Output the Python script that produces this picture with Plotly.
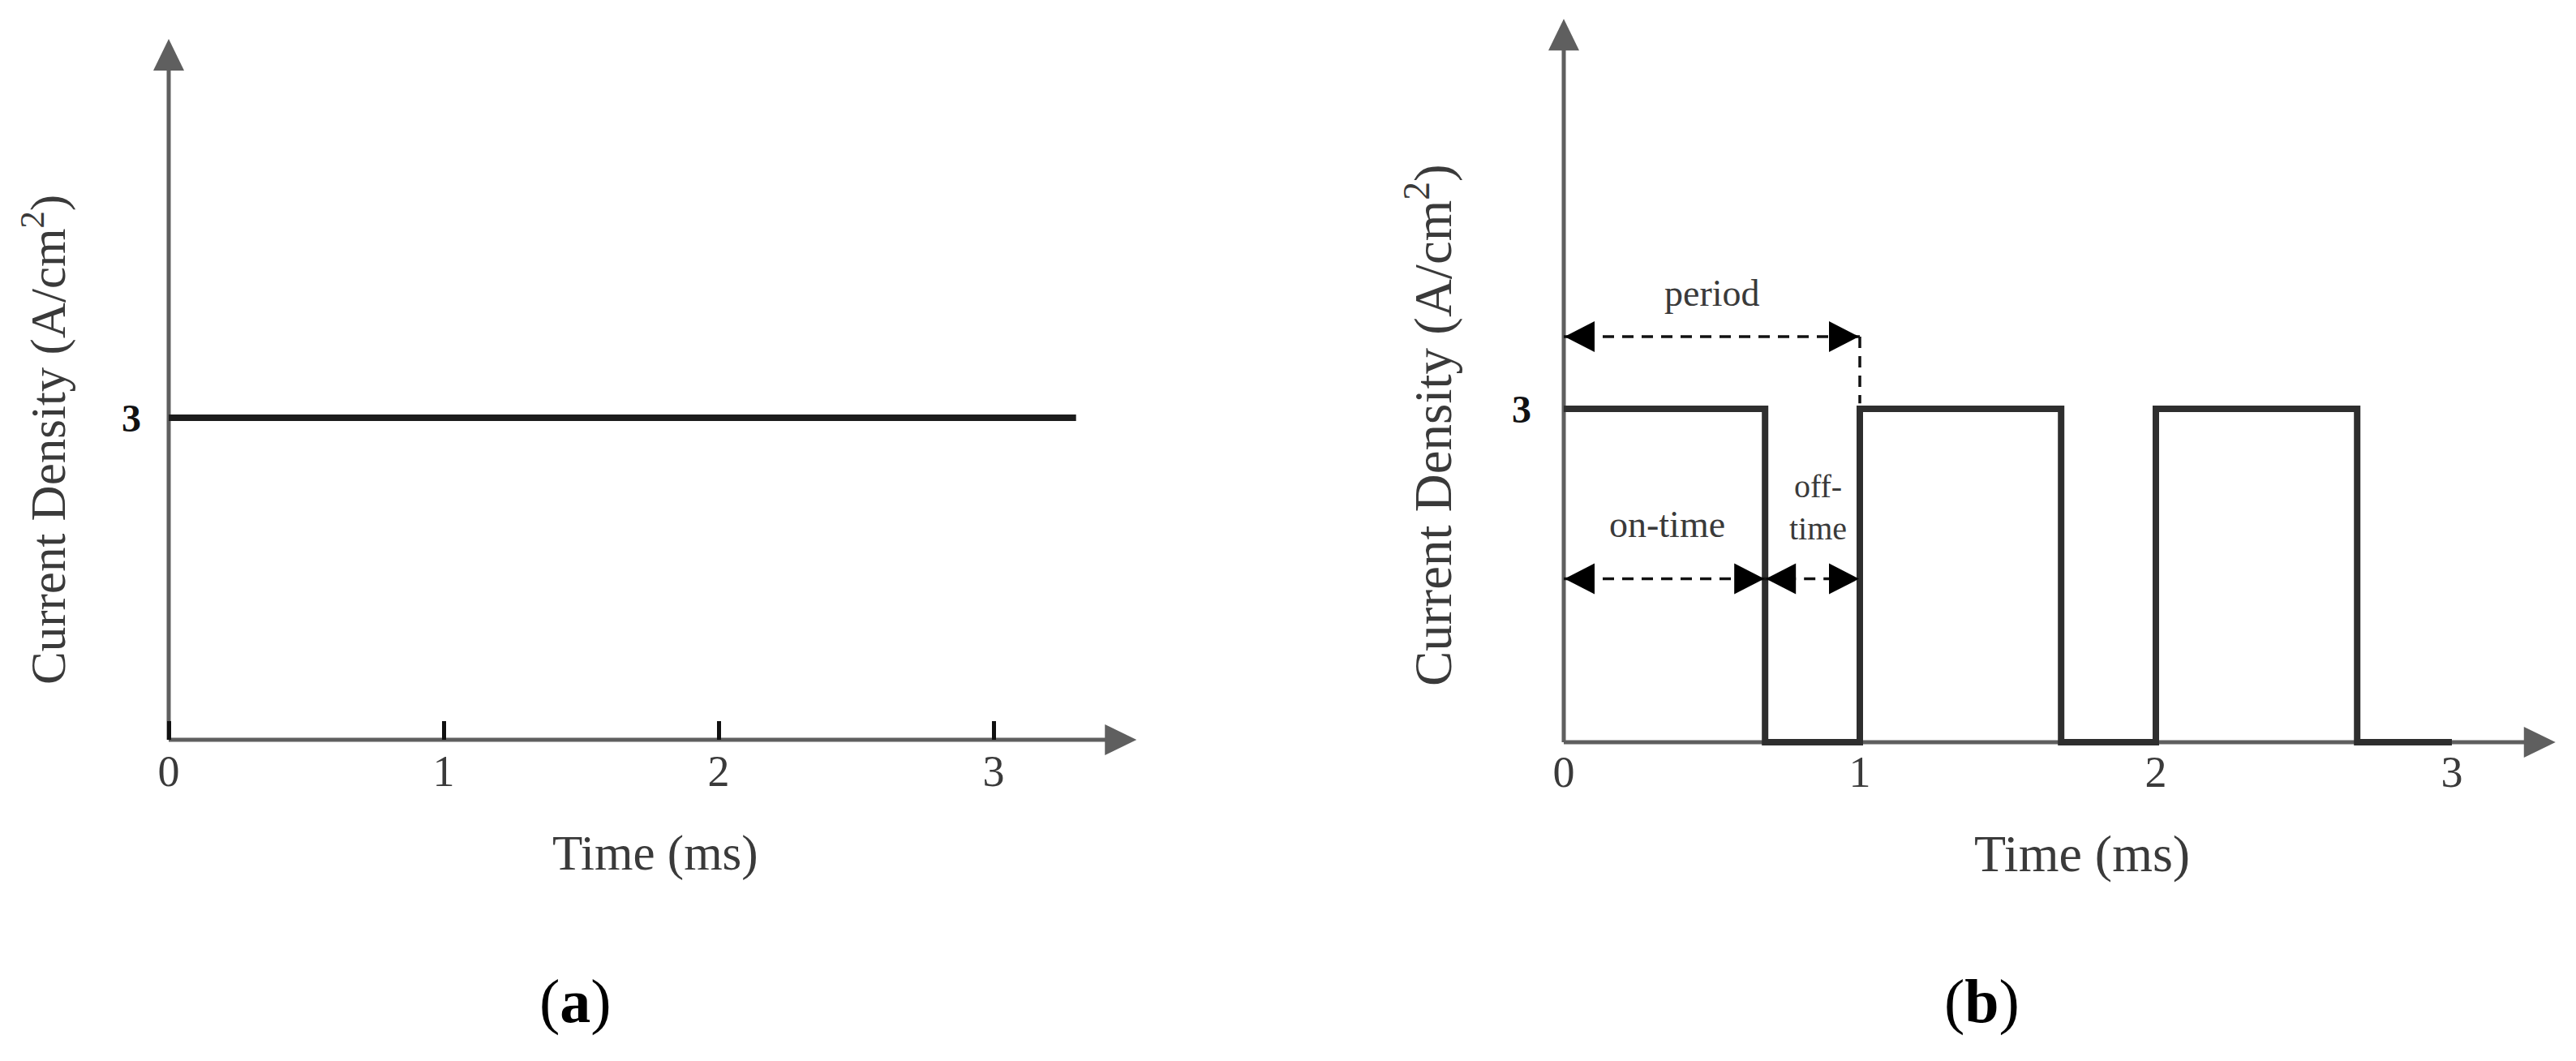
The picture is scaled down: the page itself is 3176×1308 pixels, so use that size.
import plotly.graph_objects as go

# ---------------- data ----------------
dc_time = [0, 3.3]                 # ms, panel (a): direct current
dc_density = [3, 3]                # A/cm2

pulse_time = [0, 0.68, 0.68, 1, 1, 1.68, 1.68, 2, 2, 2.68, 2.68, 3]   # ms, panel (b)
pulse_density = [3, 3, 0, 0, 3, 3, 0, 0, 3, 3, 0, 0]                 # A/cm2

x_tick_vals = [0, 1, 2, 3]
x_tick_text = ["0", "1", "2", "3"]
y_tick_vals = [3]
y_tick_text = ["<b>3</b>"]

period_span = [0, 1]        # ms
on_time_span = [0, 0.68]    # ms
off_time_span = [0.68, 1]   # ms

x_title = "Time (ms)"
y_title = "Current Density (A/cm<sup>2</sup>)"
panel_labels = ["(<b>a</b>)", "(<b>b</b>)"]

# ---------------- layout geometry (pixels) ----------------
W, H = 3176, 1308
FONT = "Liberation Serif"
AXC = "#5f5f5f"
TXT = "#3a3a3a"

# panel a: origin px, px per unit, ranges
XA0, SXA, XRA = 208, 339, [-0.6, 3.6]
YA0, SYA, YRA = 912, 132.3, [-1.5, 6.85]
# panel b
XB0, SXB, XRB = 1928, 365, [-0.6, 3.4]
YB0, SYB, YRB = 915, 137, [-1.4, 6.65]


def xdom(x0, s, r):
    return [(x0 + r[0] * s) / W, (x0 + r[1] * s) / W]


def ydom(y0, s, r):
    return [1 - (y0 - r[0] * s) / H, 1 - (y0 - r[1] * s) / H]


def px(x, y):
    return x / W, 1 - y / H


fig = go.Figure()
fig.add_trace(go.Scatter(x=dc_time, y=dc_density, mode="lines",
                         line=dict(color="#1c1c1c", width=8),
                         xaxis="x", yaxis="y", showlegend=False, hoverinfo="skip"))
fig.add_trace(go.Scatter(x=pulse_time, y=pulse_density, mode="lines",
                         line=dict(color="#2e2e2e", width=8),
                         xaxis="x2", yaxis="y2", showlegend=False, hoverinfo="skip"))

shapes = []


def axis_arrows(xr, yr, xtip, ytip, xback, yback):
    shapes.append(dict(type="line", xref=xr, yref=yr, x0=0, y0=0, x1=xtip - xback, y1=0,
                       line=dict(color=AXC, width=5), layer="below"))
    shapes.append(dict(type="line", xref=xr, yref=yr, x0=0, y0=0, x1=0, y1=ytip - yback,
                       line=dict(color=AXC, width=5), layer="below"))
    shapes.append(dict(type="path", xref=xr, yref=yr, xsizemode="pixel", ysizemode="pixel",
                       xanchor=xtip, yanchor=0, path="M 0,0 L -39,19 L -39,-19 Z",
                       fillcolor=AXC, line=dict(width=0)))
    shapes.append(dict(type="path", xref=xr, yref=yr, xsizemode="pixel", ysizemode="pixel",
                       xanchor=0, yanchor=ytip, path="M 0,0 L -19,-39 L 19,-39 Z",
                       fillcolor=AXC, line=dict(width=0)))


def dim_arrow(xr, yr, xl, xrt, y):
    shapes.append(dict(type="line", xref=xr, yref=yr, x0=xl, y0=y, x1=xrt, y1=y,
                       line=dict(color="#111111", width=3.5, dash="14px,10px")))
    shapes.append(dict(type="path", xref=xr, yref=yr, xsizemode="pixel", ysizemode="pixel",
                       xanchor=xl, yanchor=y, path="M 1,0 L 38,19 L 38,-19 Z",
                       fillcolor="#000000", line=dict(width=0)))
    shapes.append(dict(type="path", xref=xr, yref=yr, xsizemode="pixel", ysizemode="pixel",
                       xanchor=xrt, yanchor=y, path="M -1,0 L -38,19 L -38,-19 Z",
                       fillcolor="#000000", line=dict(width=0)))


axis_arrows("x", "y", 3.52, 6.53, 0.06, 0.15)
axis_arrows("x2", "y2", 3.35, 6.51, 0.06, 0.15)

PERIOD_Y, ONOFF_Y = 3.65, 1.47
dim_arrow("x2", "y2", period_span[0], period_span[1], PERIOD_Y)
dim_arrow("x2", "y2", on_time_span[0], on_time_span[1], ONOFF_Y)
dim_arrow("x2", "y2", off_time_span[0], off_time_span[1], ONOFF_Y)
shapes.append(dict(type="line", xref="x2", yref="y2", x0=period_span[1], y0=PERIOD_Y,
                   x1=period_span[1], y1=pulse_density[4] + 0.05,
                   line=dict(color="#111111", width=3.5, dash="14px,10px")))

annotations = []


def ann_px(text, x, y, size, color=TXT, angle=0):
    xp, yp = px(x, y)
    annotations.append(dict(text=text, x=xp, y=yp, xref="paper", yref="paper",
                            showarrow=False, xanchor="center", yanchor="middle",
                            textangle=angle, font=dict(family=FONT, size=size, color=color)))


ann_px(y_title, 55, 542, 61, angle=-90)
ann_px(y_title, 1762, 524, 65, angle=-90)
ann_px(x_title, 808, 1052, 61)
ann_px(x_title, 2567, 1052, 64)
ann_px(panel_labels[0], 709, 1234, 76, color="#000000")
ann_px(panel_labels[1], 2443, 1234, 76, color="#000000")

# texts inside panel b (data coords)
annotations.append(dict(text="period", x=0.5, y=4.04, xref="x2", yref="y2", showarrow=False,
                        font=dict(family=FONT, size=46, color=TXT)))
annotations.append(dict(text="on-time", x=0.35, y=1.96, xref="x2", yref="y2", showarrow=False,
                        font=dict(family=FONT, size=46, color=TXT)))
annotations.append(dict(text="off-<br>time", x=0.86, y=2.11, xref="x2", yref="y2", showarrow=False,
                        font=dict(family=FONT, size=40, color=TXT)))

common_x = dict(showgrid=False, zeroline=False, showline=False, anchor="free",
                tickmode="array", tickvals=x_tick_vals, ticktext=x_tick_text,
                tickfont=dict(family=FONT, size=54, color=TXT), fixedrange=True)
common_y = dict(showgrid=False, zeroline=False, showline=False, anchor="free",
                tickmode="array", tickvals=y_tick_vals, ticktext=y_tick_text,
                ticks="", tickfont=dict(family=FONT, size=48, color="#111111"), fixedrange=True)

fig.update_layout(
    width=W, height=H,
    margin=dict(l=0, r=0, t=0, b=0, pad=0),
    paper_bgcolor="white", plot_bgcolor="white",
    showlegend=False,
    xaxis=dict(common_x, domain=xdom(XA0, SXA, XRA), range=XRA, position=1 - YA0 / H,
               ticks="inside", ticklen=23, tickwidth=5, tickcolor="#111111",
               ticklabelstandoff=2),
    yaxis=dict(common_y, domain=ydom(YA0, SYA, YRA), range=YRA, position=XA0 / W,
               ticklabelstandoff=34),
    xaxis2=dict(common_x, domain=xdom(XB0, SXB, XRB), range=XRB, position=1 - YB0 / H,
                ticks="", ticklabelstandoff=0),
    yaxis2=dict(common_y, domain=ydom(YB0, SYB, YRB), range=YRB, position=XB0 / W,
                ticklabelstandoff=40),
    shapes=shapes,
    annotations=annotations,
)

fig.write_html(
    "out.html",
    config={"displayModeBar": False},
    post_script="document.body.style.margin='0';document.body.style.overflow='hidden';",
)
